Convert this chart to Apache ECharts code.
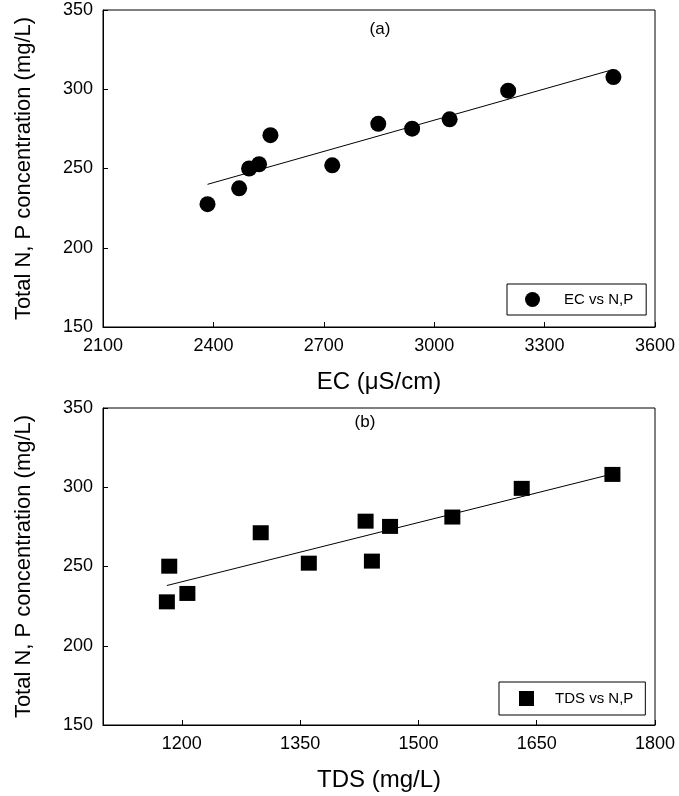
<!DOCTYPE html>
<html>
<head>
<meta charset="utf-8">
<script src="https://cdn.jsdelivr.net/npm/echarts@6/dist/echarts.min.js"></script>
<style>
  html, body { margin: 0; padding: 0; background: #fff; }
  #chart { width: 679px; height: 796px; }
</style>
</head>
<body>
<div id="chart"></div>
<script>
// (a) EC vs total N,P
var ecValues = [2384, 2470, 2497, 2524, 2555, 2723, 2848, 2940, 3042, 3201, 3487];
var ecNP = [227.5, 237.5, 250, 252.7, 271, 252, 278.2, 275.1, 281, 299.1, 307.7];
var ecFitX = [2384, 3487];
var ecFitY = [240, 312.5];
var ecTicks = [2100, 2400, 2700, 3000, 3300, 3600];

// (b) TDS vs total N,P
var tdsValues = [1181, 1184, 1207, 1300, 1361, 1433, 1441, 1464, 1543, 1631, 1746];
var tdsNP = [227.7, 250.2, 233, 271.3, 252.1, 278.6, 253.4, 275.3, 281.2, 299.3, 308.1];
var tdsFitX = [1181, 1747];
var tdsFitY = [238, 308.5];
var tdsTicks = [1200, 1350, 1500, 1650, 1800];

var yTitle = 'Total N, P concentration (mg/L)';
var font = "'Liberation Sans', Arial, sans-serif";

function pairs(xs, ys) {
  return xs.map(function (x, i) { return [x, ys[i]]; });
}

function plain(v) {
  return String(v);
}

var myChart = echarts.init(document.getElementById('chart'));

function yAxis(idx) {
  return {
    type: 'value',
    gridIndex: idx,
    min: 150,
    max: 350,
    interval: 50,
    name: yTitle,
    nameLocation: 'middle',
    nameGap: 68,
    nameTextStyle: { fontSize: 22, color: '#000', fontFamily: font },
    axisLine: { show: true, lineStyle: { color: '#000', width: 1 } },
    axisTick: { show: true, inside: true, length: 5, lineStyle: { color: '#000' } },
    axisLabel: { margin: 10, fontSize: 18, color: '#000', fontFamily: font, formatter: plain },
    splitLine: { show: false }
  };
}

var option = {
  animation: false,
  backgroundColor: '#fff',
  textStyle: { fontFamily: font },
  title: [
    { text: '(a)', left: 380, top: 21, textAlign: 'center', padding: 0,
      textStyle: { fontSize: 17, fontWeight: 'normal', color: '#000', fontFamily: font } },
    { text: '(b)', left: 365, top: 414, textAlign: 'center', padding: 0,
      textStyle: { fontSize: 17, fontWeight: 'normal', color: '#000', fontFamily: font } }
  ],
  grid: [
    { left: 103, top: 10, width: 552, height: 317, show: true, borderColor: '#000', borderWidth: 1 },
    { left: 103, top: 408, width: 552, height: 317, show: true, borderColor: '#000', borderWidth: 1 }
  ],
  legend: [
    {
      data: [{ name: 'EC vs N,P', icon: 'circle' }],
      left: 507, top: 284,
      padding: [8, 13, 8, 18],
      itemWidth: 15, itemHeight: 15,
      borderColor: '#000', borderWidth: 1,
      selectedMode: false,
      textStyle: { fontSize: 15, color: '#000', fontFamily: font, padding: [0, 0, 0, 19] }
    },
    {
      data: [{ name: 'TDS vs N,P', icon: 'rect' }],
      left: 499, top: 682,
      padding: [9, 12, 9, 20],
      itemWidth: 15, itemHeight: 15,
      borderColor: '#000', borderWidth: 1,
      selectedMode: false,
      textStyle: { fontSize: 15, color: '#000', fontFamily: font, padding: [0, 0, 0, 16] }
    }
  ],
  xAxis: [
    {
      type: 'value',
      gridIndex: 0,
      min: ecTicks[0],
      max: ecTicks[ecTicks.length - 1],
      interval: 300,
      name: 'EC (\u03bcS/cm)',
      nameLocation: 'middle',
      nameGap: 43,
      nameTextStyle: { fontSize: 24, color: '#000', fontFamily: font },
      axisLine: { show: true, lineStyle: { color: '#000', width: 1 } },
      axisTick: { show: true, inside: true, length: 5, lineStyle: { color: '#000' } },
      axisLabel: { margin: 10, fontSize: 18, color: '#000', fontFamily: font, formatter: plain },
      splitLine: { show: false }
    },
    {
      type: 'value',
      gridIndex: 1,
      min: 1100,
      max: 1800,
      name: 'TDS (mg/L)',
      nameLocation: 'middle',
      nameGap: 43,
      nameTextStyle: { fontSize: 24, color: '#000', fontFamily: font },
      axisLine: { show: true, lineStyle: { color: '#000', width: 1 } },
      axisTick: { show: true, inside: true, length: 5, customValues: tdsTicks, lineStyle: { color: '#000' } },
      axisLabel: { margin: 10, fontSize: 18, color: '#000', fontFamily: font, formatter: plain, customValues: tdsTicks },
      splitLine: { show: false }
    }
  ],
  yAxis: [yAxis(0), yAxis(1)],
  series: [
    {
      name: 'EC vs N,P',
      type: 'scatter',
      xAxisIndex: 0, yAxisIndex: 0,
      symbol: 'circle',
      symbolSize: 16,
      itemStyle: { color: '#000', opacity: 1 },
      data: pairs(ecValues, ecNP)
    },
    {
      name: 'EC fit',
      type: 'line',
      xAxisIndex: 0, yAxisIndex: 0,
      showSymbol: false,
      symbol: 'none',
      lineStyle: { color: '#000', width: 1 },
      data: pairs(ecFitX, ecFitY)
    },
    {
      name: 'TDS vs N,P',
      type: 'scatter',
      xAxisIndex: 1, yAxisIndex: 1,
      symbol: 'rect',
      symbolSize: [16, 15],
      itemStyle: { color: '#000', opacity: 1 },
      data: pairs(tdsValues, tdsNP)
    },
    {
      name: 'TDS fit',
      type: 'line',
      xAxisIndex: 1, yAxisIndex: 1,
      showSymbol: false,
      symbol: 'none',
      lineStyle: { color: '#000', width: 1 },
      data: pairs(tdsFitX, tdsFitY)
    }
  ]
};

myChart.setOption(option);

window.addEventListener('resize', function () {
  myChart.resize();
});
</script>
</body>
</html>
